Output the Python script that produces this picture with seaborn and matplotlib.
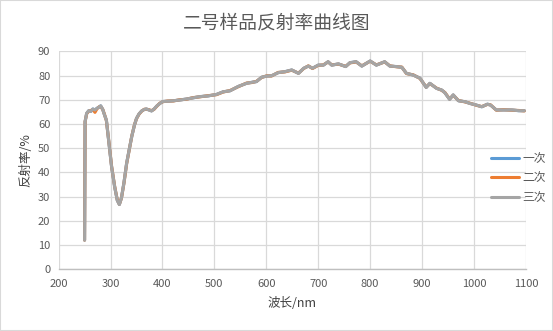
import matplotlib
matplotlib.use("Agg")
import matplotlib.pyplot as plt
from matplotlib.patches import Rectangle
import pandas as pd
import seaborn as sns

wavelength = [250, 251, 254, 258, 262, 266, 270, 274, 278, 281, 285, 288, 292, 297, 302, 308,
              313, 317, 321, 326, 331, 336, 341, 346, 350, 355, 360, 365, 369, 374, 379, 384,
              389, 395, 401, 410, 421, 433, 446, 459, 472, 488, 504, 517, 530, 546, 562, 572,
              581, 591, 601, 610, 623, 636, 649, 662, 672, 681, 689, 700, 710, 719, 726, 739,
              753, 761, 773, 784, 800, 812, 828, 838, 851, 861, 870, 883, 896, 908, 915, 928,
              938, 944, 953, 960, 970, 983, 992, 1005, 1015, 1026, 1032, 1043, 1057, 1073, 1086, 1097]

first = [12.1, 61.0, 64.4, 65.5, 65.2, 66.2, 65.8, 66.5, 67.0, 67.5, 66.0, 64.0, 61.6, 52.0, 42.4, 34.0,
         28.5, 26.8, 29.5, 36.0, 43.8, 49.5, 55.0, 59.5, 62.3, 64.2, 65.4, 66.0, 66.2, 65.8, 65.4, 66.2,
         67.4, 68.5, 69.3, 69.4, 69.6, 69.9, 70.3, 70.8, 71.3, 71.6, 72.2, 73.3, 73.7, 75.5, 76.8, 77.2,
         77.5, 79.3, 79.8, 79.9, 81.2, 81.6, 82.3, 80.9, 83.0, 83.9, 83.0, 84.3, 84.3, 85.7, 84.3, 84.8,
         83.7, 85.3, 85.7, 83.9, 86.0, 84.3, 85.7, 83.9, 83.7, 83.4, 80.9, 80.2, 78.9, 75.1, 76.8, 74.7,
         74.0, 72.9, 70.2, 72.0, 69.6, 69.2, 68.5, 67.8, 67.1, 68.2, 67.8, 65.8, 65.8, 65.8, 65.5, 65.5]

second = [12.1, 61.0, 64.2, 65.3, 65.6, 65.9, 64.8, 66.3, 67.1, 67.3, 66.0, 64.2, 61.4, 52.3, 42.6, 34.2,
          28.7, 26.9, 29.4, 35.8, 43.6, 49.3, 55.1, 59.6, 62.2, 64.1, 65.3, 66.1, 66.1, 65.9, 65.5, 66.1,
          67.3, 68.6, 69.2, 69.5, 69.5, 70.0, 70.2, 70.9, 71.2, 71.7, 72.1, 73.2, 73.8, 75.4, 76.9, 77.1,
          77.6, 79.2, 79.9, 79.8, 81.3, 81.5, 82.2, 81.0, 82.9, 84.0, 82.9, 84.2, 84.4, 85.6, 84.4, 84.7,
          83.8, 85.2, 85.6, 84.0, 85.9, 84.4, 85.6, 84.0, 83.6, 83.5, 80.8, 80.3, 78.8, 75.2, 76.7, 74.8,
          73.9, 73.0, 70.3, 71.9, 69.7, 69.1, 68.6, 67.7, 67.2, 68.1, 67.9, 65.7, 65.9, 65.7, 65.6, 65.4]

third = [12.1, 61.0, 64.4, 65.5, 65.2, 66.2, 65.8, 66.5, 67.0, 67.5, 66.0, 64.0, 61.6, 52.0, 42.4, 34.0,
         28.5, 26.8, 29.5, 36.0, 43.8, 49.5, 55.0, 59.5, 62.3, 64.2, 65.4, 66.0, 66.2, 65.8, 65.4, 66.2,
         67.4, 68.5, 69.3, 69.4, 69.6, 69.9, 70.3, 70.8, 71.3, 71.6, 72.2, 73.3, 73.7, 75.5, 76.8, 77.2,
         77.5, 79.3, 79.8, 79.9, 81.2, 81.6, 82.3, 80.9, 83.0, 83.9, 83.0, 84.3, 84.3, 85.7, 84.3, 84.8,
         83.7, 85.3, 85.7, 83.9, 86.0, 84.3, 85.7, 83.9, 83.7, 83.4, 80.9, 80.2, 78.9, 75.1, 76.8, 74.7,
         74.0, 72.9, 70.2, 72.0, 69.6, 69.2, 68.5, 67.8, 67.1, 68.2, 67.8, 65.8, 65.8, 65.8, 65.5, 65.5]

series_names = ["一次", "二次", "三次"]
colors = ["#5B9BD5", "#ED7D31", "#A5A5A5"]
x_ticks = list(range(200, 1101, 100))
y_ticks = list(range(0, 91, 10))

sns.set_theme(style="white")
plt.rcParams['font.family'] = ['Noto Sans CJK SC', 'DejaVu Sans']
plt.rcParams['axes.unicode_minus'] = False

df = pd.DataFrame({
    "wl": wavelength * 3,
    "val": first + second + third,
    "series": [n for n in series_names for _ in wavelength],
})

fig = plt.figure(figsize=(5.53, 3.31), dpi=100)
fig.patch.set_facecolor("white")
ax = fig.add_axes([0.106, 0.186, 0.845, 0.659])
sns.lineplot(data=df, x="wl", y="val", hue="series", hue_order=series_names,
             palette=colors, estimator=None, sort=False, linewidth=2.2, ax=ax)

ax.set_xlim(200, 1100)
ax.set_ylim(0, 90)
ax.set_xticks(x_ticks)
ax.set_yticks(y_ticks)
ax.grid(True, color="#D9D9D9", linewidth=0.9)
ax.set_axisbelow(True)
for s in ["top", "right", "left"]:
    ax.spines[s].set_visible(False)
ax.spines["bottom"].set_color("#BFBFBF")
ax.spines["bottom"].set_linewidth(1.0)
ax.tick_params(axis="both", length=0, labelsize=8, labelcolor="#595959")
ax.tick_params(axis="x", pad=7)
ax.tick_params(axis="y", pad=6)
ax.set_xlabel("波长/nm", fontsize=9, color="#404040")
ax.set_ylabel("反射率/%", fontsize=9, color="#404040")
ax.xaxis.set_label_coords(0.5, -0.125)
ax.yaxis.set_label_coords(-0.056, 0.5)

fig.text(0.5, 1 - 23 / 331, "二号样品反射率曲线图", ha="center", va="center",
         fontsize=13.5, color="#595959")

fig.patches.append(Rectangle((0, 0), 1, 1, transform=fig.transFigure, fill=False,
                             edgecolor="#D9D9D9", linewidth=1.5))

handles, labels = ax.get_legend_handles_labels()
if ax.get_legend() is not None:
    ax.get_legend().remove()
leg = fig.legend(handles, labels, loc="center left", bbox_to_anchor=(0.877, 0.463),
                 frameon=False, borderpad=0, handlelength=2.35, handletextpad=0.3,
                 labelspacing=0.55, fontsize=8.5)
for t in leg.get_texts():
    t.set_color("#595959")
for h in leg.get_lines():
    h.set_linewidth(2.2)

fig.savefig("out.png", dpi=100)
